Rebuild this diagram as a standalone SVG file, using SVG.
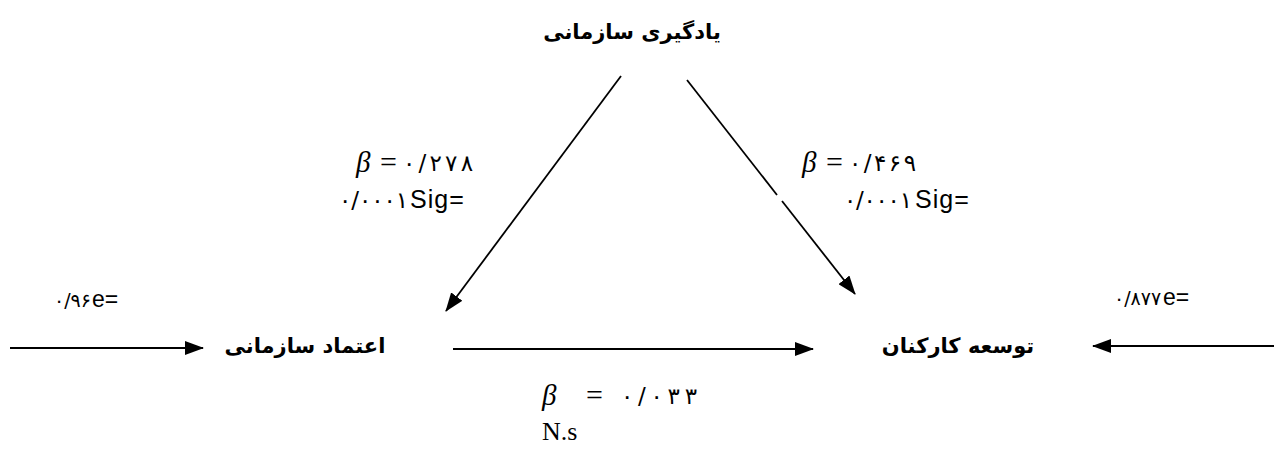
<svg xmlns="http://www.w3.org/2000/svg" width="1274" height="451" viewBox="0 0 1274 451">
<style>
.fa{font-family:"DejaVu Sans",sans-serif;font-weight:bold;font-size:21px;fill:#000}
.beta{font-family:"Liberation Serif",serif;font-style:italic;font-size:29px;fill:#000}
.eq{font-family:"Liberation Serif",serif;font-size:30px;fill:#000}
.num{font-family:"DejaVu Sans",sans-serif;font-size:23px;fill:#000;direction:ltr;unicode-bidi:bidi-override}
.sig{font-family:"Liberation Sans",sans-serif;font-size:25px;letter-spacing:1px;fill:#000}
.err{font-family:"DejaVu Sans",sans-serif;font-size:19px;fill:#000;direction:ltr;unicode-bidi:bidi-override}
.e{font-family:"Liberation Sans",sans-serif;font-size:23px;fill:#000}
.ser{font-family:"Liberation Serif",serif;font-size:26px;fill:#000}
.ln{stroke:#000;stroke-width:1.8;fill:none}
.arr{marker-end:url(#ah)}
</style>
<defs>
<marker id="ah" viewBox="0 0 19 14" refX="18" refY="7" markerWidth="19" markerHeight="14" markerUnits="userSpaceOnUse" orient="auto">
<path d="M0,0 L19,7 L0,14 z" fill="#000"/>
</marker>
</defs>
<rect width="1274" height="451" fill="#fff"/>
<g id="connectors">
<line class="ln arr" x1="621" y1="76" x2="446" y2="311"/>
<line class="ln" x1="687" y1="80" x2="777" y2="195"/>
<line class="ln arr" x1="782" y1="201" x2="855" y2="294"/>
<line class="ln arr" x1="453" y1="349" x2="813" y2="349"/>
<line class="ln arr" x1="10" y1="348" x2="203" y2="348"/>
<line class="ln arr" x1="1274" y1="346" x2="1093" y2="346"/>
</g>
<g id="node-learning">
<text class="fa" x="632" y="39" text-anchor="middle" direction="rtl">یادگیری سازمانی</text>
</g>
<g id="node-trust">
<text class="fa" x="305" y="353" text-anchor="middle" direction="rtl">اعتماد سازمانی</text>
</g>
<g id="node-development">
<text class="fa" x="958" y="353" text-anchor="middle" direction="rtl">توسعه کارکنان</text>
</g>
<g id="label-left">
<text class="beta" x="356" y="172">β</text>
<text class="eq" x="380" y="172">=</text>
<text class="num" x="403" y="171" textLength="70" lengthAdjust="spacing">۰/۲۷۸</text>
<text class="num" x="339" y="208" textLength="69" lengthAdjust="spacing">۰/۰۰۰۱</text>
<text class="sig" x="410" y="208">Sig=</text>
</g>
<g id="label-right">
<text class="beta" x="802" y="172">β</text>
<text class="eq" x="826" y="172">=</text>
<text class="num" x="849" y="171" textLength="67" lengthAdjust="spacing">۰/۴۶۹</text>
<text class="num" x="844" y="208" textLength="68" lengthAdjust="spacing">۰/۰۰۰۱</text>
<text class="sig" x="915" y="208">Sig=</text>
</g>
<g id="label-bottom">
<text class="beta" x="542" y="405">β</text>
<text class="eq" x="586" y="405">=</text>
<text class="num" x="621" y="404" textLength="76" lengthAdjust="spacing">۰/۰۳۳</text>
<text class="ser" x="542" y="440">N.s</text>
</g>
<g id="label-errors">
<text class="err" x="54" y="307">۰/۹۶</text>
<text class="e" x="92" y="307">e=</text>
<text class="err" x="1114" y="305">۰/۸۷۷</text>
<text class="e" x="1163" y="305">e=</text>
</g>
</svg>
